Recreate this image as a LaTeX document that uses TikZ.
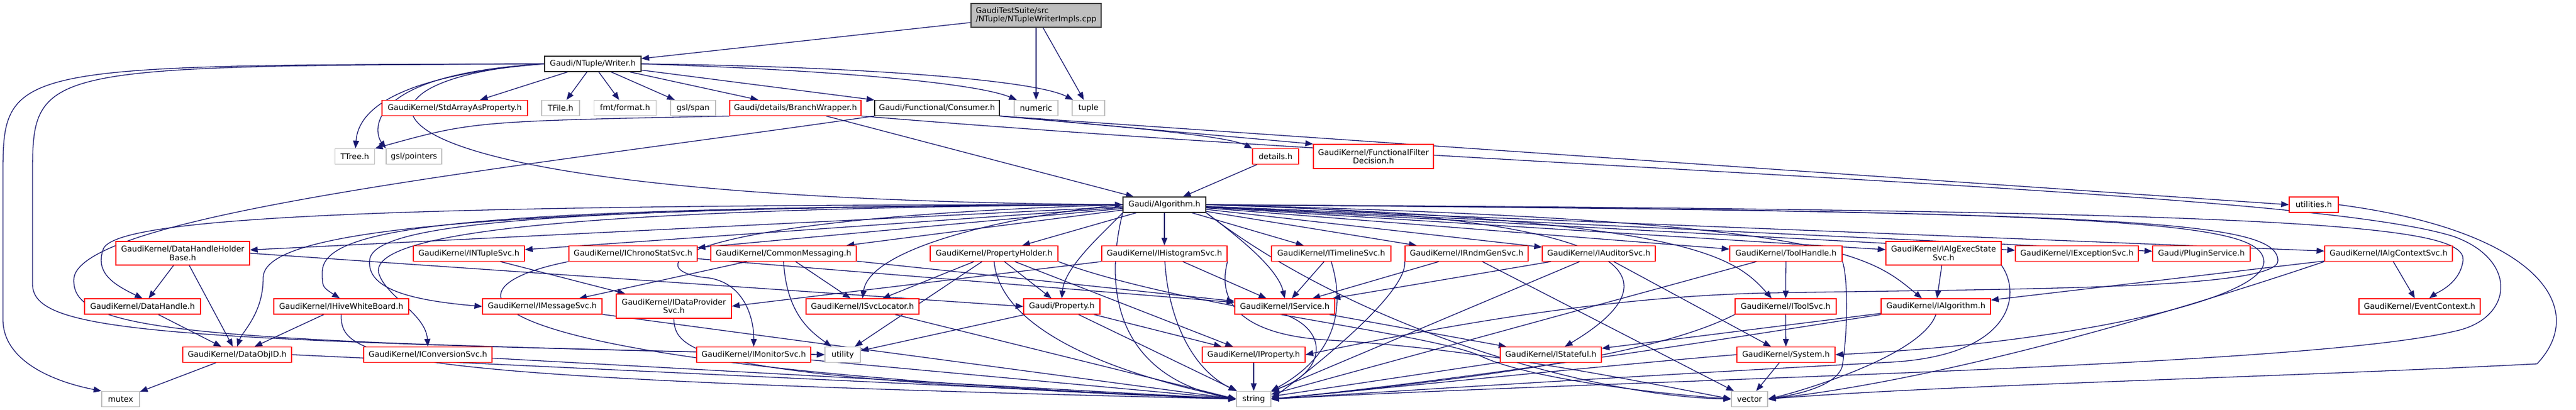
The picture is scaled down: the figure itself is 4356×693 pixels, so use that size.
\documentclass[tikz,border=0pt]{standalone}
\usepackage{fontspec}
\setmainfont{DejaVu Sans}
\usetikzlibrary{arrows.meta}
\definecolor{edgeblue}{HTML}{191970}
\definecolor{nodered}{HTML}{FF0000}
\definecolor{extgray}{HTML}{BFBFBF}
\definecolor{rootfill}{HTML}{BFBFBF}
\definecolor{rootline}{HTML}{404040}
\pgfdeclarelayer{bglayer}
\pgfdeclarelayer{edgelayer}
\pgfsetlayers{bglayer,edgelayer,main}
\tikzset{
  box/.style={rectangle, draw, fill=white, line width=1.3pt, inner xsep=3pt, inner ysep=0pt,
    minimum height=26pt, font=\fontsize{13.33}{14.6}\selectfont, align=center, text=black},
  redbox/.style={box, draw=nodered},
  graybox/.style={box, draw=extgray},
  blackbox/.style={box, draw=black!85},
  conn/.style={draw=edgeblue, line width=1.3pt, -{Triangle[length=13pt,width=10pt]}},
}
\begin{document}
\begin{tikzpicture}[x=1pt,y=-1pt]
\begin{pgfonlayer}{bglayer}
\fill[white] (0,0) rectangle (4356,693);
\end{pgfonlayer}
\useasboundingbox (0,0) rectangle (4356,693);

% ---- nodes ----
\node[box, fill=rootfill, draw=rootline, align=left, minimum width=220pt, minimum height=40pt] (root) at (1752,26) {GaudiTestSuite/src\\/NTuple/NTupleWriterImpls.cpp};
\node[blackbox, minimum width=163pt] (writer) at (1002.5,108) {Gaudi/NTuple/Writer.h};

\node[redbox, minimum width=246pt] (stdarray) at (769,182.5) {GaudiKernel/StdArrayAsProperty.h};
\node[graybox, minimum width=64pt] (tfile) at (948,182.5) {TFile.h};
\node[graybox, minimum width=105pt] (fmt) at (1057,182.5) {fmt/format.h};
\node[graybox, minimum width=76pt] (gslspan) at (1172,182.5) {gsl/span};
\node[redbox, minimum width=222pt] (branch) at (1345,182.5) {Gaudi/details/BranchWrapper.h};
\node[blackbox, minimum width=211pt] (consumer) at (1584.5,182.5) {Gaudi/Functional/Consumer.h};
\node[graybox, minimum width=74pt] (numeric) at (1752,182.5) {numeric};
\node[graybox, minimum width=55pt] (tuple) at (1840.5,182.5) {tuple};

\node[graybox, minimum width=67pt] (ttree) at (600,264.5) {TTree.h};
\node[graybox, minimum width=94pt] (gslptr) at (700,264.5) {gsl/pointers};
\node[redbox, minimum width=78pt] (details) at (2157,264.5) {details.h};
\node[redbox, minimum width=203pt, minimum height=41pt] (ffd) at (2322.5,264.5) {GaudiKernel/FunctionalFilter\\Decision.h};

\node[blackbox, minimum width=140pt] (algorithm) at (1969,346) {Gaudi/Algorithm.h};
\node[redbox, minimum width=83pt] (utilities) at (3912.5,346) {utilities.h};

\node[redbox, minimum width=226pt, minimum height=40pt] (dhhb) at (309,428) {GaudiKernel/DataHandleHolder\\Base.h};
\node[redbox, minimum width=188pt] (ntuple) at (793,428.5) {GaudiKernel/INTupleSvc.h};
\node[redbox, minimum width=217pt] (chrono) at (1070.5,428.5) {GaudiKernel/IChronoStatSvc.h};
\node[redbox, minimum width=246pt] (commsg) at (1325,428.5) {GaudiKernel/CommonMessaging.h};
\node[redbox, minimum width=216pt] (propholder) at (1681,428.5) {GaudiKernel/PropertyHolder.h};
\node[redbox, minimum width=212pt] (ihisto) at (1969,428.5) {GaudiKernel/IHistogramSvc.h};
\node[redbox, minimum width=202pt] (itimeline) at (2251,428.5) {GaudiKernel/ITimelineSvc.h};
\node[redbox, minimum width=208pt] (irndm) at (2480,428.5) {GaudiKernel/IRndmGenSvc.h};
\node[redbox, minimum width=191pt] (iauditor) at (2703.5,428.5) {GaudiKernel/IAuditorSvc.h};
\node[redbox, minimum width=190pt] (toolhandle) at (3020,428.5) {GaudiKernel/ToolHandle.h};
\node[redbox, minimum width=195pt, minimum height=40pt] (iexecstate) at (3286.5,428) {GaudiKernel/IAlgExecState\\Svc.h};
\node[redbox, minimum width=208pt] (iexception) at (3512,428.5) {GaudiKernel/IExceptionSvc.h};
\node[redbox, minimum width=165pt] (plugin) at (3722.5,428.5) {Gaudi/PluginService.h};
\node[redbox, minimum width=216pt] (iactx) at (4039,428.5) {GaudiKernel/IAlgContextSvc.h};

\node[redbox, minimum width=196pt] (datahandle) at (241,518) {GaudiKernel/DataHandle.h};
\node[redbox, minimum width=228pt] (hive) at (577,518) {GaudiKernel/IHiveWhiteBoard.h};
\node[redbox, minimum width=202pt] (imsg) at (917,518) {GaudiKernel/IMessageSvc.h};
\node[redbox, minimum width=195pt, minimum height=41pt] (idp) at (1139.5,517.5) {GaudiKernel/IDataProvider\\Svc.h};
\node[redbox, minimum width=191pt] (isvcloc) at (1458.5,518) {GaudiKernel/ISvcLocator.h};
\node[redbox, minimum width=129pt] (property) at (1795.5,518) {Gaudi/Property.h};
\node[redbox, minimum width=169pt] (iservice) at (2172.5,518) {GaudiKernel/IService.h};
\node[redbox, minimum width=171pt] (itoolsvc) at (3019.5,518) {GaudiKernel/IToolSvc.h};
\node[redbox, minimum width=185pt] (ialgorithm) at (3273.5,518) {GaudiKernel/IAlgorithm.h};
\node[redbox, minimum width=205pt] (evctx) at (4091.5,518) {GaudiKernel/EventContext.h};

\node[redbox, minimum width=184pt] (dataobjid) at (401,599.5) {GaudiKernel/DataObjID.h};
\node[redbox, minimum width=217pt] (iconv) at (723.5,599.5) {GaudiKernel/IConversionSvc.h};
\node[redbox, minimum width=193pt] (imonitor) at (1274.5,599.5) {GaudiKernel/IMonitorSvc.h};
\node[graybox, minimum width=60pt] (utility) at (1425,599.5) {utility};
\node[redbox, minimum width=174pt] (iproperty) at (2120,599.5) {GaudiKernel/IProperty.h};
\node[redbox, minimum width=171pt] (istateful) at (2622.5,599.5) {GaudiKernel/IStateful.h};
\node[redbox, minimum width=166pt] (system) at (3020,599.5) {GaudiKernel/System.h};

\node[graybox, minimum width=64pt] (mutex) at (204,674.5) {mutex};
\node[graybox, minimum width=58pt] (string) at (2120,674.5) {string};
\node[graybox, minimum width=61pt] (vector) at (2958.5,674.5) {vector};

% ---- connectors ----
\begin{pgfonlayer}{edgelayer}
% root
\draw[conn] (root) -- (writer);
\draw[conn] (root) -- (numeric);
\draw[conn] (root) -- (tuple);
% writer
\draw[conn] (writer) -- (stdarray);
\draw[conn] (writer) -- (tfile);
\draw[conn] (writer) -- (fmt);
\draw[conn] (writer) -- (gslspan);
\draw[conn] (writer) -- (branch);
\draw[conn] (writer) -- (consumer);
\draw[conn] (writer.east) .. controls (1400,118) and (1650,140) .. (numeric);
\draw[conn] (writer.east) .. controls (1450,112) and (1750,135) .. (tuple);
\draw[conn] (writer.west) .. controls (640,130) and (605,200) .. (ttree);
\draw[conn] (writer.west) .. controls (620,125) and (630,220) .. (gslptr.north west);
\draw[conn] (writer.west) .. controls (5,110) .. (5,300) -- (5,540) .. controls (5,610) and (90,645) .. (mutex.north west);
\draw[conn] (writer.west) .. controls (55,112) .. (55,300) -- (55,480) .. controls (55,560) and (250,575) .. (utility.west);
\draw[conn] (writer.west) .. controls (560,130) and (480,335) .. (algorithm.west);
% consumer
\draw[conn] (consumer.south east) .. controls (1950,218) and (2080,232) .. (details.north west);
\draw[conn] (consumer.south east) -- (ffd.north west);
\draw[conn] (consumer.south east) -- (utilities.west);
\draw[conn] (consumer.south west) .. controls (900,280) and (140,360) .. (125,470) .. controls (118,560) and (300,577) .. (utility.west);
% branch
\draw[conn] (branch) -- (algorithm);
\draw[conn] (branch.south west) .. controls (800,205) .. (ttree.north east);
\draw[conn] (branch.south east) .. controls (2600,290) and (3900,320) .. (4150,400) .. controls (4260,440) and (4250,540) .. (4150,560) .. controls (3900,620) and (2800,640) .. (string.east);
% details, utilities
\draw[conn] (details) -- (algorithm);
\draw[conn] (utilities.east) .. controls (4290,390) and (4380,520) .. (4290,615) .. controls (3800,640) and (3300,650) .. (vector.east);
% algorithm -> next row
\foreach \t in {dhhb,ntuple,chrono,commsg,propholder,ihisto,itimeline,irndm,iauditor,toolhandle,iexecstate,iexception,plugin,iactx}
  \draw[conn] (algorithm) -- (\t);
% algorithm -> lower rows
\draw[conn] (algorithm.west) .. controls (600,345) and (200,370) .. (175,420) .. controls (160,460) and (190,480) .. (datahandle.north);
\draw[conn] (algorithm.west) .. controls (700,350) and (445,400) .. (445,470) .. controls (445,530) and (410,560) .. (dataobjid.north);
\draw[conn] (algorithm.west) .. controls (800,350) and (545,380) .. (545,460) .. controls (545,485) .. (hive.100);
\draw[conn] (algorithm.west) .. controls (900,350) and (630,380) .. (625,440) .. controls (620,490) and (700,508) .. (imsg.west);
\draw[conn] (algorithm.west) .. controls (1000,352) and (630,390) .. (640,460) .. controls (650,500) and (720,530) .. (iconv.north);
\draw[conn] (algorithm.west) .. controls (1100,370) and (1080,460) .. (1200,470) .. controls (1260,480) and (1275,540) .. (imonitor.north);
\draw[conn] (algorithm.west) .. controls (1700,365) and (1470,420) .. (isvcloc.north);
\draw[conn] (algorithm.south west) .. controls (1870,390) and (1800,450) .. (property.north);
\draw[conn] (algorithm.south east) .. controls (2080,390) and (2160,450) .. (iservice.north);
\draw[conn] (algorithm.east) .. controls (2790,365) and (2840,470) .. (istateful.30);
\draw[conn] (algorithm.east) .. controls (2850,372) and (2930,430) .. (itoolsvc.150);
\draw[conn] (algorithm.east) .. controls (3100,372) and (3160,430) .. (ialgorithm.150);
\draw[conn] (algorithm.east) .. controls (3600,356) and (3820,375) .. (3828,440) .. controls (3836,505) and (3500,580) .. (system.east);
\draw[conn] (algorithm.east) .. controls (3600,358) and (3848,372) .. (3852,440) .. controls (3856,490) and (3400,488) .. (3000,495) .. controls (2700,500) and (2400,560) .. (iproperty.east);
\draw[conn] (algorithm.east) .. controls (3900,355) and (4170,380) .. (4165,440) .. controls (4160,480) and (4120,495) .. (evctx.40);
\draw[conn] (algorithm.south west) .. controls (1850,560) and (1950,650) .. (string.west);
\draw[conn] (algorithm.south east) .. controls (2300,560) and (2700,670) .. (vector.west);
% dhhb, datahandle, dataobjid, hive
\draw[conn] (dhhb) -- (datahandle);
\draw[conn] (dhhb) -- (dataobjid);
\draw[conn] (dhhb.east) -- (property.west);
\draw[conn] (datahandle) -- (dataobjid);
\draw[conn] (dataobjid) -- (mutex);
\draw[conn] (dataobjid.east) -- (string.west);
\draw[conn] (hive) -- (dataobjid);
\draw[conn] (hive.south) .. controls (575,610) and (650,640) .. (string.west);
% ntuple, chrono, commsg
\draw[conn] (ntuple) -- (idp);
\draw[conn] (chrono) -- (iservice);
\draw[conn] (chrono.south west) .. controls (720,490) and (760,620) .. (string.west);
\draw[conn] (commsg) -- (imsg);
\draw[conn] (commsg) -- (isvcloc);
\draw[conn] (commsg) -- (iservice);
\draw[conn] (commsg.south) .. controls (1330,530) and (1370,560) .. (utility);
% propholder
\draw[conn] (propholder) -- (isvcloc);
\draw[conn] (propholder) -- (utility);
\draw[conn] (propholder) -- (property);
\draw[conn] (propholder) -- (iproperty);
\draw[conn] (propholder.south) .. controls (1690,540) and (1830,620) .. (string.west);
\draw[conn] (propholder.south east) .. controls (2000,520) and (2400,560) .. (2500,600) .. controls (2580,640) and (2800,665) .. (vector.west);
% ihisto
\draw[conn] (ihisto) -- (iservice);
\draw[conn] (ihisto.south west) -- (idp.east);
\draw[conn] (ihisto) .. controls (1975,530) and (2010,620) .. (string.north west);
\draw[conn] (ihisto.south east) .. controls (2050,540) and (2150,570) .. (2250,575) .. controls (2500,590) and (2750,640) .. (vector.west);
% itimeline, irndm, iauditor
\draw[conn] (itimeline) -- (iservice);
\draw[conn] (itimeline.south) .. controls (2275,520) and (2260,600) .. (string.north east);
\draw[conn] (irndm) -- (iservice);
\draw[conn] (irndm.south west) .. controls (2380,490) and (2250,600) .. (string.east);
\draw[conn] (irndm) -- (vector);
\draw[conn] (iauditor) -- (iservice);
\draw[conn] (iauditor) -- (system);
\draw[conn] (iauditor) -- (string);
% toolhandle, itoolsvc, system
\draw[conn] (toolhandle) -- (itoolsvc);
\draw[conn] (toolhandle) -- (string);
\draw[conn] (toolhandle.south east) .. controls (3125,470) and (3125,560) .. (3115,620) .. controls (3105,650) and (3050,665) .. (vector.east);
\draw[conn] (itoolsvc) -- (system);
\draw[conn] (itoolsvc.south west) .. controls (2800,600) and (2500,640) .. (string.east);
\draw[conn] (system) -- (vector);
\draw[conn] (system.west) .. controls (2800,610) and (2400,650) .. (string.east);
% iexecstate, ialgorithm, iactx
\draw[conn] (iexecstate) -- (ialgorithm);
\draw[conn] (iexecstate.south east) .. controls (3420,500) and (3400,600) .. (3200,612) .. controls (2900,628) and (2500,652) .. (string.east);
\draw[conn] (ialgorithm) -- (istateful);
\draw[conn] (ialgorithm.south west) .. controls (3000,560) and (2500,640) .. (string.east);
\draw[conn] (ialgorithm.south) .. controls (3250,600) and (3050,660) .. (vector.east);
\draw[conn] (iactx) -- (ialgorithm);
\draw[conn] (iactx) -- (evctx);
\draw[conn] (iactx.south west) .. controls (3700,520) and (3300,640) .. (vector.east);
% lower row to string
\draw[conn] (idp.south) .. controls (1140,600) and (1200,640) .. (string.west);
\draw[conn] (imsg) -- (string.west);
\draw[conn] (isvcloc) -- (string.west);
\draw[conn] (imonitor) -- (string.west);
\draw[conn] (iconv) -- (string.west);
\draw[conn] (property) -- (utility);
\draw[conn] (property) -- (string);
\draw[conn] (property) -- (iproperty);
\draw[conn] (iproperty) -- (string);
\draw[conn] (iservice) -- (istateful);
\draw[conn] (iservice.south) .. controls (2250,560) and (2240,630) .. (string.north east);
\draw[conn] (istateful) -- (string);
\end{pgfonlayer}
\end{tikzpicture}
\end{document}
